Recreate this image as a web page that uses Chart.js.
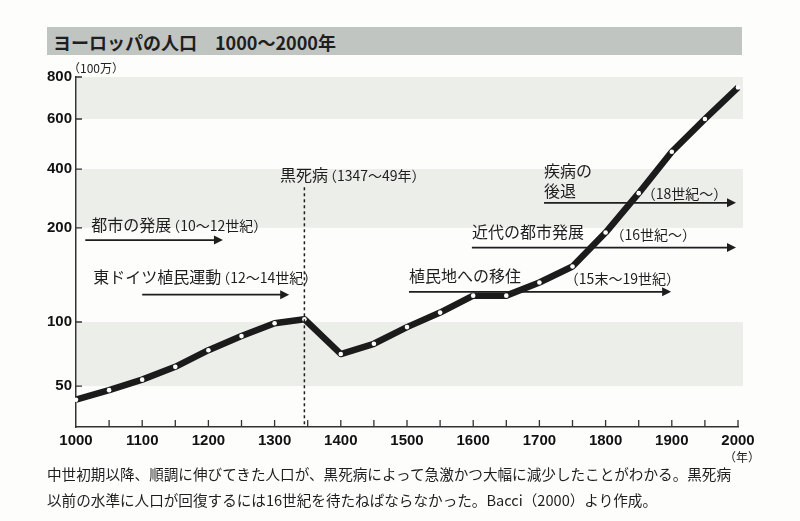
<!DOCTYPE html>
<html>
<head>
<meta charset="utf-8">
<script src="https://cdn.jsdelivr.net/npm/chart.js@4.4.1/dist/chart.umd.min.js"></script>
<style>
  body { margin: 0; background: #fdfdfc; }
  #wrap { position: relative; width: 800px; height: 521px; font-family: "Liberation Sans", "Noto Sans CJK JP", sans-serif; color: #1e1e1e; }
  #chart { position: absolute; left: 0; top: 0; }
  #titleBar { position: absolute; left: 47px; top: 27px; width: 695px; height: 28px; background: #c1c5c2; }
  #titleBar span { position: absolute; left: 6px; top: 2px; font: bold 18px "Noto Sans CJK JP", sans-serif; letter-spacing: 0; white-space: pre; }
  #caption { position: absolute; left: 47px; top: 461px; font: 14.6px "Noto Sans CJK JP", sans-serif; line-height: 26px; white-space: nowrap; }
</style>
</head>
<body>
<div id="wrap">
  <canvas id="chart" width="800" height="521"></canvas>
  <div id="titleBar"><span>ヨーロッパの人口　1000〜2000年</span></div>
  <div id="caption">中世初期以降、順調に伸びてきた人口が、黒死病によって急激かつ大幅に減少したことがわかる。黒死病<br>以前の水準に人口が回復するには16世紀を待たねばならなかった。Bacci（2000）より作成。</div>
</div>
<script>
// data (population, millions)
const years = [1000, 1050, 1100, 1150, 1200, 1250, 1300, 1345, 1400, 1450, 1500, 1550,
               1600, 1650, 1700, 1750, 1800, 1850, 1900, 1950, 2000];
const population = [40, 47, 55, 65, 78, 89, 99, 103, 75, 83, 96, 110,
                    128, 128, 142, 159, 195, 318, 469, 600, 750];
const yTicks = [50, 100, 200, 400, 600, 800];
const xLabelEvery = 100;

// the vertical axis of the original is hand-spaced, not linear or log
const yBreaks = [20, 50, 100, 200, 400, 600, 800];
const yFracs  = [0, 0.117, 0.3, 0.569, 0.737, 0.88, 1];

class PiecewiseScale extends Chart.LinearScale {
  buildTicks() { return yTicks.map(v => ({ value: v })); }
  getPixelForValue(v) {
    let i = 0;
    while (i < yBreaks.length - 2 && v > yBreaks[i + 1]) i++;
    const t = (v - yBreaks[i]) / (yBreaks[i + 1] - yBreaks[i]);
    return this.getPixelForDecimal(yFracs[i] + t * (yFracs[i + 1] - yFracs[i]));
  }
  getValueForPixel(p) {
    const d = this.getDecimalForPixel(p);
    let i = 0;
    while (i < yFracs.length - 2 && d > yFracs[i + 1]) i++;
    const t = (d - yFracs[i]) / (yFracs[i + 1] - yFracs[i]);
    return yBreaks[i] + t * (yBreaks[i + 1] - yBreaks[i]);
  }
}
PiecewiseScale.id = 'piecewise';
PiecewiseScale.defaults = Chart.LinearScale.defaults;
Chart.register(PiecewiseScale);

const JP = '"Noto Sans CJK JP", sans-serif';

// shaded bands behind the line
const bandsPlugin = {
  id: 'bands',
  beforeDatasetsDraw(chart) {
    const { ctx, chartArea, scales: { y } } = chart;
    ctx.save();
    ctx.fillStyle = '#eceeea';
    [[600, 800], [200, 400], [50, 100]].forEach(([lo, hi]) => {
      const top = y.getPixelForValue(hi), bot = y.getPixelForValue(lo);
      ctx.fillRect(chartArea.left + 1, top, chartArea.right + 4 - chartArea.left, bot - top);
    });
    ctx.restore();
  }
};

// inward tick marks on both axes
const ticksPlugin = {
  id: 'inTicks',
  afterDatasetsDraw(chart) {
    const { ctx, chartArea, scales: { x, y } } = chart;
    ctx.save();
    ctx.strokeStyle = '#333';
    ctx.lineWidth = 1.3;
    ctx.beginPath();
    x.ticks.forEach(t => {
      const px = x.getPixelForValue(t.value);
      if (t.value === 1000) return;
      ctx.moveTo(px, chartArea.bottom);
      ctx.lineTo(px, chartArea.bottom - 7);
    });
    y.ticks.forEach(t => {
      const py = y.getPixelForValue(t.value);
      ctx.moveTo(chartArea.left, py);
      ctx.lineTo(chartArea.left + 6, py);
    });
    ctx.stroke();
    ctx.font = '12px ' + JP;
    ctx.fillStyle = '#222';
    ctx.textBaseline = 'middle';
    ctx.fillText('（100万）', chartArea.left - 8, chartArea.top - 9);
    ctx.fillText('（年）', chartArea.right - 14, chartArea.bottom + 30);
    ctx.restore();
  }
};

// text notes, arrows and the Black Death marker
const notes = [
  { text: '都市の発展', sub: '（10〜12世紀）', x: 1023, y: 210 },
  { text: '東ドイツ植民運動', sub: '（12〜14世紀）', x: 1026, y: 148 },
  { text: '黒死病', sub: '（1347〜49年）', x: 1308, y: 380 },
  { text: '疾病の', x: 1707, y: 392 },
  { text: '後退', x: 1707, y: 324 },
  { text: '', sub: '（18世紀〜）', x: 1865, y: 320 },
  { text: '近代の都市発展', sub: '', x: 1598, y: 196 },
  { text: '', sub: '（16世紀〜）', x: 1818, y: 194 },
  { text: '植民地への移住', sub: '', x: 1503, y: 149 },
  { text: '', sub: '（15末〜19世紀）', x: 1749, y: 147 }
];
const arrows = [
  { from: 1014, to: 1222, y: 187 },
  { from: 1100, to: 1322, y: 129 },
  { from: 1707, to: 1997, y: 285 },
  { from: 1598, to: 1997, y: 179 },
  { from: 1503, to: 1899, y: 132 }
];
const plagueYear = 1345;

const notesPlugin = {
  id: 'notes',
  afterDraw(chart) {
    const { ctx, chartArea, scales: { x, y } } = chart;
    ctx.save();
    ctx.fillStyle = '#1e1e1e';
    ctx.strokeStyle = '#1e1e1e';
    ctx.textBaseline = 'middle';
    notes.forEach(n => {
      let px = x.getPixelForValue(n.x);
      const py = y.getPixelForValue(n.y);
      if (n.text) {
        ctx.font = '16px ' + JP;
        ctx.fillText(n.text, px, py);
        px += ctx.measureText(n.text).width;
      }
      if (n.sub) {
        ctx.font = '14px ' + JP;
        ctx.fillText(n.sub, n.text ? px - 5 : px - 7, py + 1);
      }
    });
    ctx.lineWidth = 1.8;
    arrows.forEach(a => {
      const x0 = x.getPixelForValue(a.from), x1 = x.getPixelForValue(a.to);
      const py = y.getPixelForValue(a.y);
      ctx.beginPath();
      ctx.moveTo(x0, py);
      ctx.lineTo(x1 - 6, py);
      ctx.stroke();
      ctx.beginPath();
      ctx.moveTo(x1, py);
      ctx.lineTo(x1 - 9, py - 4.5);
      ctx.lineTo(x1 - 9, py + 4.5);
      ctx.closePath();
      ctx.fill();
    });
    const dx = x.getPixelForValue(plagueYear);
    ctx.lineWidth = 1.5;
    ctx.setLineDash([3, 3]);
    ctx.beginPath();
    ctx.moveTo(dx, y.getPixelForValue(338));
    ctx.lineTo(dx, chartArea.bottom);
    ctx.stroke();
    ctx.restore();
  }
};

new Chart(document.getElementById('chart'), {
  type: 'line',
  data: {
    datasets: [{
      data: years.map((yr, i) => ({ x: yr, y: population[i] })),
      borderColor: '#1b1b1b',
      borderWidth: 6.5,
      borderJoinStyle: 'round',
      tension: 0,
      pointRadius: 2.3,
      pointBackgroundColor: '#ffffff',
      pointBorderWidth: 0,
      clip: false
    }]
  },
  options: {
    responsive: false,
    animation: false,
    layout: { padding: { top: 77, right: 62, left: 0, bottom: 0 } },
    plugins: { legend: { display: false }, tooltip: { enabled: false } },
    scales: {
      x: {
        type: 'linear',
        min: 1000, max: 2000,
        afterFit: s => { s.height = 94; },
        grid: { display: false, drawTicks: false },
        border: { display: true, color: '#333', width: 1.5 },
        ticks: {
          stepSize: 50, autoSkip: false, maxRotation: 0, padding: 5,
          color: '#111',
          font: { family: 'Liberation Sans', size: 15, weight: 'bold' },
          callback: v => (v % xLabelEvery === 0 ? String(v) : '')
        }
      },
      y: {
        type: 'piecewise',
        min: 20, max: 800,
        afterFit: s => { s.width = 76; },
        grid: { display: false, drawTicks: false },
        border: { display: true, color: '#333', width: 1.5 },
        ticks: {
          padding: 4,
          color: '#111',
          font: { family: 'Liberation Sans', size: 15, weight: 'bold' },
          callback: v => String(v)
        }
      }
    }
  },
  plugins: [bandsPlugin, ticksPlugin, notesPlugin]
});
</script>
</body>
</html>
